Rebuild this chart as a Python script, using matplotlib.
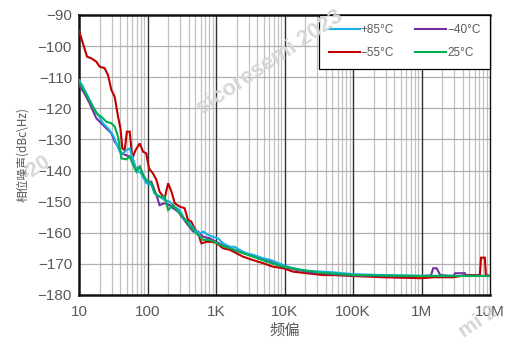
import numpy as np
import matplotlib
matplotlib.use("Agg")
import matplotlib.pyplot as plt
from matplotlib.ticker import FixedLocator, NullFormatter

plt.rcParams['font.family'] = ['Liberation Sans', 'Noto Sans CJK SC', 'DejaVu Sans']

# ---- data ----
f_red = [10, 11.4, 13.1, 15.1, 17.9, 20, 23.7, 26.5, 29.7, 33.2, 37.2, 40.2, 43, 46.5, 50, 55, 60, 67, 77, 86, 96,
         105, 120, 135, 150, 178, 200, 224, 250, 296, 348, 390, 435, 488, 547, 612, 727, 861, 1000, 1270, 1600,
         2000, 2500, 3500, 4900, 6800, 9600, 13400, 21000, 36700, 51000, 100000, 280000, 1e6, 1.48e6, 2.9e6,
         4.5e6, 7.1e6, 7.4e6, 8.4e6, 8.7e6, 1e7]
v_red = [-95.0, -99.1, -103.4, -103.9, -105, -106.6, -107.1, -109.3, -114.1, -116.3, -122.7, -126.4, -132.9, -133.4,
         -127.5, -127.5, -136, -133.4, -131.3, -133.9, -134.5, -139.3, -140.9, -143, -146.8, -148.9, -144.1, -146.8,
         -150.5, -151.6, -152.1, -155.9, -156.4, -158.6, -160.2, -163.4, -162.9, -162.9, -163.2, -165, -165.5,
         -166.6, -167.7, -168.8, -169.8, -170.9, -171.4, -172.5, -173.0, -173.6, -173.6, -173.9, -174.3, -174.6,
         -174.3, -174.3, -173.6, -173.6, -168, -168, -173.6, -173.8]

f_cyan = [10, 11.4, 13.5, 16, 19, 22.4, 26.5, 31.4, 35, 39.3, 44, 49, 55, 61.5, 68.8, 81, 96, 114, 127, 150, 178,
          210, 250, 296, 348, 415, 488, 580, 650, 770, 910, 1070, 1270, 1600, 1880, 2200, 2800, 3500, 4900, 6400,
          9600, 13400, 21000, 36700, 57000, 100000, 280000, 1e6, 1e7]
v_cyan = [-110.9, -113, -116.2, -119.5, -122, -124.8, -126.4, -128.6, -131.2, -133.9, -134.5, -133.4, -132.9,
          -136.6, -139.8, -140.9, -144.1, -144.6, -147.3, -148.4, -149.5, -150, -151.6, -152.7, -155.9, -157,
          -159.1, -160.2, -159.6, -160.7, -161.3, -161.8, -163.4, -164.5, -164.5, -165.5, -166.6, -167.1, -168.2,
          -168.8, -170.4, -171.4, -172.2, -172.5, -172.8, -173.3, -173.6, -173.8, -173.9]

f_purple = [10, 12, 14.3, 17.9, 21.2, 25, 29.7, 33.2, 37.2, 41.6, 48, 55, 61.5, 68.8, 77, 86, 96, 114, 135, 150,
            178, 210, 236, 280, 330, 390, 463, 547, 650, 815, 1000, 1270, 1600, 2200, 3100, 4400, 6100, 9600,
            15000, 26000, 51000, 100000, 280000, 1e6, 1.38e6, 1.48e6, 1.66e6, 1.88e6, 2.9e6, 3.1e6, 4.3e6, 4.5e6, 1e7]
v_purple = [-112.5, -115.2, -118.4, -123.2, -124.8, -126.4, -128, -130.7, -132.3, -134.5, -135, -135.5, -136.6,
            -139.8, -138.7, -141.4, -143.6, -143.6, -147.9, -151.1, -150.5, -151.1, -152.1, -153.2, -155.4, -157.5,
            -159.6, -159.6, -161.3, -161.8, -162.9, -164, -165, -166.1, -167.1, -168.2, -169.3, -170.9, -171.9,
            -172.8, -173.3, -173.7, -173.9, -173.9, -173.7, -171.4, -171.4, -173.6, -173.9, -173, -173, -173.7, -173.9]

f_green = [10, 12, 15.1, 17.9, 21.2, 25, 29.7, 33.2, 37.2, 41.6, 49, 55, 61.5, 68.8, 77, 86, 96, 114, 127, 150,
           178, 200, 236, 280, 330, 390, 463, 547, 650, 815, 1000, 1270, 1780, 2500, 3500, 5500, 9600, 16800,
           33000, 100000, 1e6, 1e7]
v_green = [-111.4, -114.6, -118.4, -121.6, -122.7, -124.3, -124.8, -125.9, -129.1, -136.1, -136.4, -135.5, -138.2,
           -140.4, -138.7, -141.4, -143.0, -144.1, -147.3, -148.4, -148.4, -152.7, -151.1, -153.2, -154.8, -157,
           -159.1, -160.7, -162.3, -162.3, -163.2, -164.3, -165.3, -166.6, -167.7, -169.3, -170.9, -171.9, -172.8,
           -173.6, -173.9, -173.9]

series_labels = ['+85°C', '−55°C', '−40°C', '25°C']
series_colors = ['#1ab0e8', '#c00000', '#7030a0', '#00b050']

x_ticks = [10, 100, 1e3, 1e4, 1e5, 1e6, 1e7]
x_ticklabels = ['10', '100', '1K', '10K', '100K', '1M', '10M']
y_ticks = list(range(-180, -89, 10))
y_ticklabels = ['−%d' % (-v) for v in y_ticks]

# ---- figure ----
W, H = 507, 343
fig = plt.figure(figsize=(W / 100, H / 100), dpi=100)
ax = fig.add_axes([79 / W, 1 - 295 / H, (490 - 79) / W, (295 - 15) / H])

ax.set_xscale('log')
ax.set_xlim(10, 1e7)
ax.set_ylim(-180, -90)

# grid
minor = [m * 10 ** e for e in range(1, 7) for m in range(2, 10)]
for xv in minor:
    ax.axvline(xv, color='#c0c0c0', lw=0.9, zorder=1)
for xv in x_ticks[1:-1]:
    ax.axvline(xv, color='#303030', lw=1.0, zorder=1.2)
for yv in y_ticks[1:-1]:
    ax.axhline(yv, color='#b0b0b0', lw=0.9, zorder=1)

# watermark
wm = dict(color='#d6d6d6', rotation=34, zorder=1.5, ha='center', va='center',
          fontweight='bold', family='Liberation Sans', rotation_mode='anchor')
fig.text(270 / W, 1 - 62 / H, 'sicoresemi 2023', fontsize=16, **wm)
fig.text(36 / W, 1 - 168 / H, '-20', fontsize=15, **wm)
fig.text(478 / W, 1 - 322 / H, 'mi 2', fontsize=15, **wm)

data = [(f_cyan, v_cyan), (f_red, v_red), (f_purple, v_purple), (f_green, v_green)]
order = [1, 2, 0, 3]
handles = {}
for i in order:
    fx, vy = data[i]
    ln, = ax.plot(fx, vy, color=series_colors[i], lw=1.5, zorder=3, label=series_labels[i],
                  solid_joinstyle='miter')
    handles[i] = ln

ax.xaxis.set_major_locator(FixedLocator(x_ticks))
ax.xaxis.set_minor_formatter(NullFormatter())
ax.xaxis.set_minor_locator(FixedLocator([]))
ax.set_xticklabels(x_ticklabels)
ax.set_yticks(y_ticks)
ax.set_yticklabels(y_ticklabels)
ax.tick_params(axis='both', length=0, labelsize=11, colors='#595959', pad=7)
ax.tick_params(axis='y', pad=5)

for s in ['left', 'bottom', 'top']:
    ax.spines[s].set_linewidth(1.8)
    ax.spines[s].set_color('#111111')
ax.spines['right'].set_linewidth(1.0)
ax.spines['right'].set_color('#111111')
ax.set_facecolor('white')

ax.set_ylabel('相位噪声(dBc\\Hz)', fontsize=8.5, color='#595959', labelpad=6,
              family=['Noto Sans CJK SC', 'DejaVu Sans'])
ax.set_xlabel('频偏', fontsize=11, color='#595959', labelpad=2,
              family=['Noto Sans CJK SC', 'DejaVu Sans'])

leg_h = [handles[0], handles[1], handles[2], handles[3]]
leg = ax.legend(leg_h, [series_labels[i] for i in range(4)], ncol=2, loc='upper right',
                bbox_to_anchor=(1.0, 1.0), frameon=True, fancybox=False, fontsize=8.5,
                handlelength=2.6, handletextpad=0.1, columnspacing=1.8, borderpad=0.8,
                labelspacing=0.9, borderaxespad=0)
leg.get_frame().set_edgecolor('black')
leg.get_frame().set_linewidth(0.9)
leg.get_frame().set_alpha(1)
for t in leg.get_texts():
    t.set_color('#595959')
leg.set_zorder(5)

fig.savefig('out.png', dpi=100)
